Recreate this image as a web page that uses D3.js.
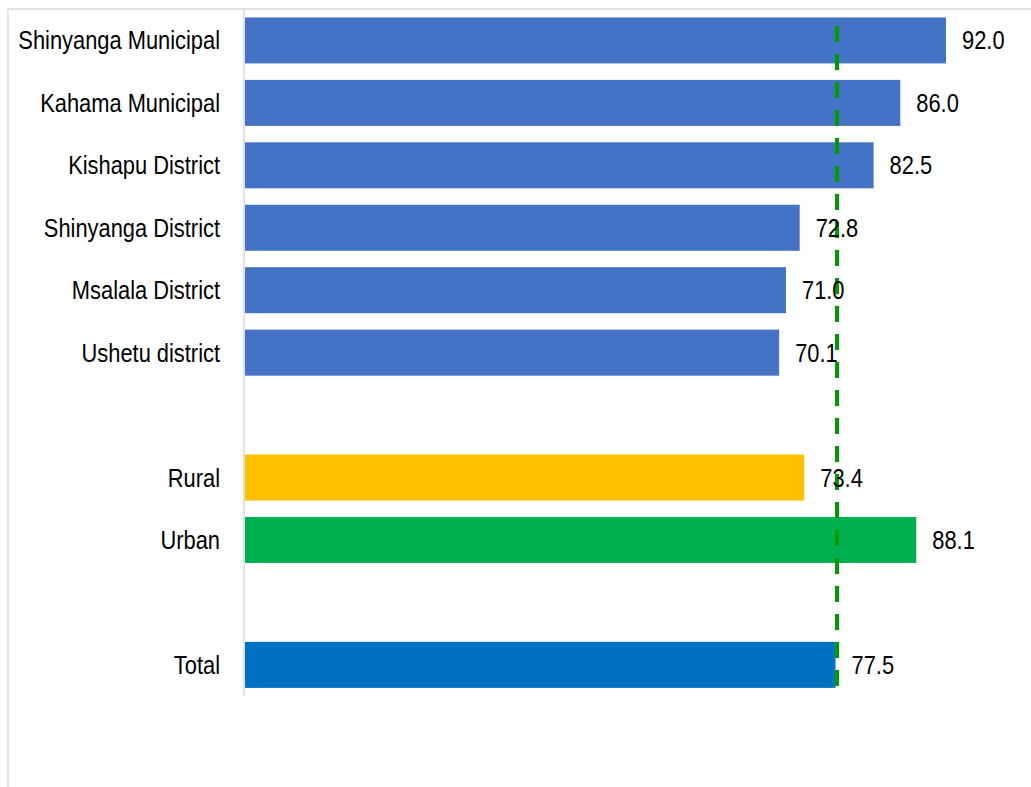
<!DOCTYPE html>
<html><head><meta charset="utf-8">
<script src="https://cdn.jsdelivr.net/npm/d3@7"></script>
<style>body{margin:0;background:#fff}svg{display:block}</style>
</head><body>
<svg id="chart" width="1031" height="787"></svg>
<script>
const categories = ["Shinyanga Municipal","Kahama Municipal","Kishapu District","Shinyanga District","Msalala District","Ushetu district","gap1","Rural","Urban","gap2","Total"];
const labels = ["Shinyanga Municipal","Kahama Municipal","Kishapu District","Shinyanga District","Msalala District","Ushetu district","","Rural","Urban","","Total"];
const values = [92.0,86.0,82.5,72.8,71.0,70.1,null,73.4,88.1,null,77.5];
const colors = ["#4472C4","#4472C4","#4472C4","#4472C4","#4472C4","#4472C4",null,"#FFC000","#00B050",null,"#0070C0"];
const refValue = 77.7;

const svg = d3.select("#chart");
const x = d3.scaleLinear().domain([0, 92]).range([245, 946]);
const y = d3.scaleBand().domain(categories).range([9.3, 696]).paddingInner(0.263).paddingOuter(0.13);

// frame
svg.append("line").attr("x1",8).attr("x2",1031).attr("y1",9).attr("y2",9).attr("stroke","#d9d9d9").attr("stroke-width",1.5);
svg.append("line").attr("x1",8).attr("x2",8).attr("y1",9).attr("y2",787).attr("stroke","#d9d9d9").attr("stroke-width",1.5);

const data = categories.map((c,i)=>({c, label:labels[i], v:values[i], col:colors[i]})).filter(d=>d.v!=null);

svg.selectAll("rect.bar").data(data).enter().append("rect")
  .attr("class","bar")
  .attr("x", x(0))
  .attr("y", d=>y(d.c))
  .attr("width", d=>x(d.v)-x(0))
  .attr("height", y.bandwidth())
  .attr("fill", d=>d.col);

// axis line
svg.append("line").attr("x1",244).attr("x2",244).attr("y1",9).attr("y2",696).attr("stroke","#d9d9d9").attr("stroke-width",1.5);

// category labels
const sx = 0.875;
svg.selectAll("text.cat").data(data).enter().append("text")
  .attr("class","cat")
  .attr("transform", d=>`translate(220,${y(d.c)+y.bandwidth()/2+9}) scale(${sx},1)`)
  .attr("text-anchor","end")
  .attr("font-family","Liberation Sans, Arial, sans-serif")
  .attr("font-size",25)
  .attr("fill","#000")
  .text(d=>d.label);

// reference dashed line
svg.append("line").attr("x1",x(refValue)).attr("x2",x(refValue)).attr("y1",26).attr("y2",688)
  .attr("stroke","#009900").attr("stroke-width",4).attr("stroke-dasharray","16,12");

// value labels
svg.selectAll("text.val").data(data).enter().append("text")
  .attr("class","val")
  .attr("transform", d=>`translate(${x(d.v)+16},${y(d.c)+y.bandwidth()/2+9}) scale(${sx},1)`)
  .attr("font-family","Liberation Sans, Arial, sans-serif")
  .attr("font-size",25)
  .attr("fill","#000")
  .text(d=>d.v.toFixed(1));
</script>
</body></html>
